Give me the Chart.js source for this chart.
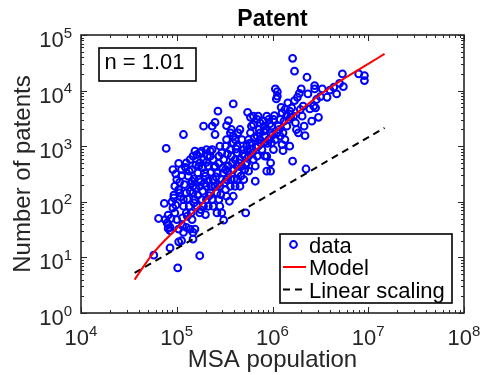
<!DOCTYPE html>
<html>
<head>
<meta charset="utf-8">
<script src="https://cdn.jsdelivr.net/npm/chart.js@4.4.0/dist/chart.umd.min.js"></script>
<style>
  body { margin: 0; background: #fff; }
  #wrap { width: 483px; height: 375px; }
</style>
</head>
<body>
<div id="wrap"><canvas id="patentChart"></canvas></div>
<script>
// log10 of MSA population, one entry per metro area
const popExp = [
  4.89, 4.96, 5.02, 5.05, 4.98, 5.00, 4.97, 4.97, 4.95, 4.96, 4.98, 4.91, 4.90, 4.91, 4.93, 5.00, 5.02,
  5.06, 5.07, 5.05, 5.02, 4.93, 5.01, 4.76, 4.81, 4.87, 4.91, 5.03, 5.03, 5.07, 5.07, 5.10, 5.10,
  5.10, 5.12, 5.14, 5.16, 5.17, 5.19, 5.21, 5.23, 5.24, 5.24, 5.26, 5.28, 5.29, 5.16, 5.17, 5.17,
  5.19, 5.21, 5.23, 5.24, 5.26, 5.28, 5.30, 5.13, 5.15, 5.16, 5.17, 5.19, 5.11, 5.24, 5.31, 5.31,
  5.30, 5.33, 5.35, 5.37, 5.31, 5.17, 5.24,
  5.38, 5.40, 5.42, 5.44, 5.45, 5.47, 5.49, 5.51, 5.52, 5.54, 5.56, 5.57, 5.59, 5.38, 5.40, 5.42,
  5.44, 5.45, 5.47, 5.49, 5.51, 5.52, 5.55, 5.49, 5.35, 5.37, 5.38, 5.33, 5.42, 5.45, 5.56, 5.57,
  5.59, 5.61, 5.63, 5.59, 5.56, 5.57, 5.61, 5.52, 5.51, 5.54, 5.52, 5.59, 5.43, 5.40, 5.37, 5.28,
  5.40, 5.07, 5.35, 5.32,
  5.63, 5.64, 5.66, 5.68, 5.70, 5.71, 5.73, 5.75, 5.77, 5.78, 5.80, 5.84, 5.85, 5.87, 5.91, 5.92,
  5.94, 5.96, 5.63, 5.64, 5.66, 5.68, 5.70, 5.71, 5.73, 5.75, 5.77, 5.78, 5.80, 5.82, 5.84, 5.85,
  5.87, 5.89, 5.91, 5.92, 5.63, 5.66, 5.72, 5.82, 5.75, 5.59, 5.61, 5.74, 5.77, 5.80, 5.91, 5.84,
  5.87,
  5.94, 5.98, 5.98, 6.01, 6.03, 6.05, 6.06, 6.08, 6.10, 6.11, 6.13, 6.11, 6.10, 6.18, 6.15, 6.17,
  6.18, 6.20, 6.13, 6.22, 6.24, 6.25, 6.27, 6.21, 5.99, 6.01, 5.98, 5.96, 6.03, 6.05, 6.05, 6.04,
  5.99, 6.08, 5.94, 6.21, 6.23, 6.26, 6.15, 6.29,
  6.30, 6.35, 6.36, 6.33, 6.34, 6.37, 6.39, 6.41, 6.43, 6.45, 6.44, 6.44, 6.48, 6.52, 6.57, 6.64,
  6.67, 6.70, 6.73, 6.90, 6.96, 6.96, 6.31, 6.32, 6.46, 6.50, 6.60, 6.74,
  5.47, 5.14, 5.10, 4.88, 4.93,
  5.02, 5.05, 5.08, 5.09, 5.11, 5.13, 5.14, 5.15, 5.18, 5.18, 5.20, 5.20, 5.22, 5.22, 5.25, 5.25,
  5.27, 5.27, 5.29, 5.31, 5.33, 5.34, 5.36, 5.36, 5.39, 5.41, 5.43, 5.44, 5.46, 5.48, 5.50, 5.53,
  5.53, 5.58, 5.60, 5.62, 5.65, 5.67, 5.69, 5.72, 5.74, 5.76, 5.79, 5.81, 5.83, 5.86, 5.88, 5.90,
  5.93, 5.95, 5.97, 6.00, 6.02, 6.07, 6.09, 6.12, 6.16, 6.19, 6.23, 6.28, 4.99, 5.04, 5.06, 4.94,
  4.99
];
// log10 of patent count, same order as popExp
const patentExp = [
  2.96, 2.58, 2.69, 2.58, 2.28, 2.40, 2.07, 2.12, 2.00, 1.89, 1.80, 1.76, 1.62, 1.52, 1.48, 1.68, 1.51,
  1.57, 1.45, 1.30, 1.28, 1.17, 0.81, 1.04, 1.70, 1.97, 1.59, 2.16, 2.35, 2.04, 1.92, 1.80, 2.16,
  2.70, 2.46, 2.76, 2.58, 2.82, 2.91, 2.85, 2.64, 2.88, 2.70, 2.91, 2.76, 2.52, 2.37, 2.28, 2.16,
  2.04, 1.92, 2.40, 2.28, 2.04, 1.92, 1.77, 1.92, 1.80, 1.68, 1.45, 1.51, 1.74, 1.80, 2.04, 2.28,
  2.46, 2.64, 2.82, 2.94, 2.94, 1.33, 1.03,
  2.76, 2.64, 2.52, 2.82, 3.00, 2.88, 2.76, 2.58, 2.40, 2.64, 2.94, 2.82, 3.06, 2.40, 2.28, 2.16,
  2.04, 2.28, 2.40, 2.52, 2.22, 2.10, 2.01, 1.67, 2.16, 2.04, 1.92, 1.92, 1.80, 1.92, 2.28, 2.40,
  2.58, 2.76, 2.88, 3.18, 3.24, 3.30, 3.12, 3.12, 3.00, 3.46, 3.37, 3.76, 3.63, 3.43, 3.36, 3.36,
  3.21, 3.21, 2.91, 2.82,
  3.00, 3.24, 3.30, 3.12, 2.94, 2.82, 3.00, 3.12, 3.24, 3.36, 3.39, 3.48, 3.54, 3.42, 3.36, 3.18,
  3.54, 3.48, 2.64, 2.52, 2.76, 2.64, 2.40, 2.58, 2.70, 2.82, 2.94, 3.06, 2.76, 2.64, 2.82, 3.00,
  3.12, 2.94, 3.06, 2.82, 2.40, 2.28, 1.80, 2.37, 2.55, 2.10, 2.28, 3.61, 3.52, 3.54, 3.27, 3.18,
  3.24,
  2.55, 2.55, 2.70, 2.94, 3.12, 3.24, 3.36, 3.48, 3.60, 3.24, 3.12, 2.92, 3.03, 3.00, 3.36, 3.48,
  3.63, 3.69, 3.66, 3.54, 3.42, 3.30, 3.24, 2.73, 3.36, 3.48, 3.24, 3.12, 4.03, 3.98, 3.90, 3.85,
  3.06, 3.18, 2.82, 4.58, 4.35, 3.88, 3.56, 3.66,
  4.03, 2.59, 4.24, 3.36, 3.19, 3.94, 3.67, 3.45, 3.72, 3.69, 4.09, 4.03, 3.52, 4.03, 3.88, 4.06,
  3.94, 4.13, 4.30, 4.30, 4.27, 4.18, 3.54, 3.72, 3.84, 3.89, 4.01, 4.07,
  1.80, 1.51, 1.54, 1.68, 1.54,
  2.22, 2.47, 2.31, 2.62, 2.05, 2.55, 2.19, 2.33, 2.41, 1.98, 2.24, 2.66, 2.12, 2.52, 2.36, 1.86,
  2.19, 2.61, 2.33, 2.71, 2.38, 2.11, 2.53, 2.28, 2.62, 2.45, 2.31, 2.69, 2.13, 2.61, 2.34, 2.55,
  2.86, 2.69, 2.41, 2.95, 2.70, 2.46, 2.86, 2.67, 2.92, 3.05, 2.88, 3.15, 2.98, 3.30, 3.05, 3.45,
  3.30, 3.05, 3.40, 3.20, 3.55, 3.30, 3.70, 3.45, 3.78, 3.52, 3.82, 3.95, 2.50, 2.09, 1.71, 1.70,
  1.94
];

// fitted model curve
const modelPopExp = [4.56, 4.75, 5.0, 5.25, 5.5, 5.75, 6.0, 6.25, 6.5, 6.75, 7.0, 7.17];
const modelPatentExp = [0.60, 1.07, 1.52, 1.94, 2.38, 2.80, 3.22, 3.59, 3.93, 4.22, 4.48, 4.66];

// linear scaling reference
const linearPopExp = [4.56, 7.17];
const linearPatentExp = [0.72, 3.33];

// axis decades and fit label
const xDecades = [4, 5, 6, 7, 8];
const yDecades = [0, 1, 2, 3, 4, 5];
const exponentLabel = "n = 1.01";

const FONT = "'Liberation Sans', Arial, Helvetica, sans-serif";
const INK = "#262626";

const toPoints = (xs, ys) => xs.map((v, i) => ({ x: Math.pow(10, v), y: Math.pow(10, ys[i]) }));

// box, inward ticks, tick labels, title, legend and the exponent box
const framePlugin = {
  id: "frame",
  afterDraw(chart) {
    const { ctx, chartArea: a } = chart;
    const x = chart.scales.x, y = chart.scales.y;
    ctx.save();

    ctx.strokeStyle = INK;
    ctx.lineWidth = 1;
    ctx.beginPath();
    for (let d = xDecades[0]; d <= xDecades[xDecades.length - 1]; d++) {
      for (let k = 1; k <= 9; k++) {
        const v = k * Math.pow(10, d);
        if (v > x.max) break;
        const px = Math.round(x.getPixelForValue(v)) + 0.5;
        const len = k === 1 ? 6 : 3;
        ctx.moveTo(px, a.bottom); ctx.lineTo(px, a.bottom - len);
        ctx.moveTo(px, a.top); ctx.lineTo(px, a.top + len);
      }
    }
    for (let d = yDecades[0]; d <= yDecades[yDecades.length - 1]; d++) {
      for (let k = 1; k <= 9; k++) {
        const v = k * Math.pow(10, d);
        if (v > y.max) break;
        const py = Math.round(y.getPixelForValue(v)) + 0.5;
        const len = k === 1 ? 6 : 3;
        ctx.moveTo(a.left, py); ctx.lineTo(a.left + len, py);
        ctx.moveTo(a.right, py); ctx.lineTo(a.right - len, py);
      }
    }
    ctx.stroke();

    ctx.lineWidth = 1.6;
    ctx.strokeRect(a.left, a.top, a.right - a.left, a.bottom - a.top);

    // 10^n tick labels
    ctx.fillStyle = INK;
    ctx.textBaseline = "alphabetic";
    ctx.textAlign = "left";
    const base = `22px ${FONT}`, sup = `15px ${FONT}`;
    xDecades.forEach(d => {
      const px = x.getPixelForValue(Math.pow(10, d));
      ctx.font = base; const wb = ctx.measureText("10").width;
      ctx.font = sup; const we = ctx.measureText(String(d)).width;
      const left = px - (wb + we) / 2;
      ctx.font = base; ctx.fillText("10", left, a.bottom + 32);
      ctx.font = sup; ctx.fillText(String(d), left + wb, a.bottom + 22.5);
    });
    yDecades.forEach(d => {
      const py = y.getPixelForValue(Math.pow(10, d));
      ctx.font = sup; const we = ctx.measureText(String(d)).width;
      const right = a.left - 9;
      ctx.fillText(String(d), right - we, py + 2.5);
      ctx.font = base; const wb = ctx.measureText("10").width;
      ctx.fillText("10", right - we - wb, py + 12);
    });

    // title
    ctx.fillStyle = "#000";
    ctx.textAlign = "center";
    ctx.font = `bold 23px ${FONT}`;
    ctx.fillText("Patent", (a.left + a.right) / 2, 25.5);

    // exponent box, top left
    const bx = a.left + 18, by = a.top + 13, bw = 97, bh = 33;
    ctx.fillStyle = "#fff";
    ctx.fillRect(bx, by, bw, bh);
    ctx.strokeStyle = "#000";
    ctx.lineWidth = 1.6;
    ctx.strokeRect(bx, by, bw, bh);
    ctx.fillStyle = "#000";
    ctx.font = `22px ${FONT}`;
    ctx.fillText(exponentLabel, bx + bw / 2 - 3, by + 20.5);

    // legend, bottom right
    const lw = 172, lh = 69;
    const lx = a.right - 12 - lw, ly = a.bottom - 10 - lh;
    ctx.fillStyle = "#fff";
    ctx.fillRect(lx, ly, lw, lh);
    ctx.strokeRect(lx, ly, lw, lh);
    const rows = [ly + 10.5, ly + 33, ly + 55.5];
    const ds = chart.data.datasets;

    ctx.strokeStyle = ds[0].borderColor;
    ctx.lineWidth = ds[0].pointBorderWidth;
    ctx.beginPath();
    ctx.arc(lx + 13.5, rows[0], ds[0].pointRadius, 0, Math.PI * 2);
    ctx.stroke();

    ctx.strokeStyle = ds[1].borderColor;
    ctx.lineWidth = ds[1].borderWidth;
    ctx.beginPath();
    ctx.moveTo(lx + 3, rows[1]); ctx.lineTo(lx + 26, rows[1]);
    ctx.stroke();

    ctx.strokeStyle = ds[2].borderColor;
    ctx.lineWidth = ds[2].borderWidth;
    ctx.setLineDash(ds[2].borderDash);
    ctx.beginPath();
    ctx.moveTo(lx + 3, rows[2]); ctx.lineTo(lx + 26, rows[2]);
    ctx.stroke();
    ctx.setLineDash([]);

    ctx.fillStyle = "#000";
    ctx.textAlign = "left";
    ctx.font = `22px ${FONT}`;
    ds.forEach((d, i) => ctx.fillText(d.label, lx + 29, rows[i] + 8));

    ctx.restore();
  }
};

new Chart(document.getElementById("patentChart"), {
  type: "scatter",
  data: {
    datasets: [
      {
        label: "data",
        data: toPoints(popExp, patentExp),
        order: 3,
        pointStyle: "circle",
        pointRadius: 3.4,
        pointHoverRadius: 3.4,
        pointBorderWidth: 2,
        borderColor: "#0000ff",
        backgroundColor: "rgba(0,0,0,0)"
      },
      {
        label: "Model",
        type: "line",
        data: toPoints(modelPopExp, modelPatentExp),
        order: 1,
        borderColor: "#ff0000",
        borderWidth: 2,
        pointRadius: 0,
        fill: false,
        cubicInterpolationMode: "monotone"
      },
      {
        label: "Linear scaling",
        type: "line",
        data: toPoints(linearPopExp, linearPatentExp),
        order: 2,
        borderColor: "#000000",
        borderWidth: 2,
        borderDash: [7, 5],
        pointRadius: 0,
        fill: false
      }
    ]
  },
  options: {
    responsive: true,
    maintainAspectRatio: false,
    animation: false,
    layout: { padding: { top: 35, right: 19, left: 0, bottom: 0 } },
    plugins: { legend: { display: false }, tooltip: { enabled: false } },
    scales: {
      x: {
        type: "logarithmic",
        min: 1e4,
        max: 1e8,
        grid: { display: false },
        border: { display: false },
        ticks: { display: false },
        title: {
          display: true,
          text: "MSA population",
          color: INK,
          font: { family: FONT, size: 24, lineHeight: 1.2 },
          padding: { top: 1, bottom: 0 }
        },
        afterFit(scale) { scale.height = 62; }
      },
      y: {
        type: "logarithmic",
        min: 1,
        max: 1e5,
        grid: { display: false },
        border: { display: false },
        ticks: { display: false },
        title: {
          display: true,
          text: "Number of patents",
          color: INK,
          font: { family: FONT, size: 24, lineHeight: 1.2 },
          padding: { top: 9, bottom: 0 }
        },
        afterFit(scale) { scale.width = 81; }
      }
    }
  },
  plugins: [framePlugin]
});
</script>
</body>
</html>
